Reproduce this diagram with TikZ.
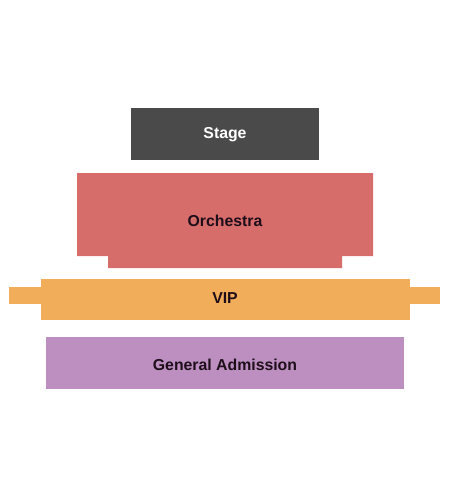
\documentclass[tikz,border=0pt]{standalone}
\usepackage{fontspec}
\setmainfont{Liberation Sans}
\usetikzlibrary{positioning}
\definecolor{stagegray}{HTML}{4A4A4A}
\definecolor{orchred}{HTML}{D66D6B}
\definecolor{vipgold}{HTML}{F2AD5B}
\definecolor{gapurple}{HTML}{BD8FC1}
\definecolor{labeldark}{HTML}{1E0E1A}

\begin{document}
\begin{tikzpicture}[x=0.03cm, y=-0.03cm, every node/.style={font=\fontsize{13.5}{15}\selectfont\bfseries}]
    \useasboundingbox (0,0) rectangle (450,500);

    % Stage
    \fill[stagegray] (131,108) rectangle (319,160);

    % Orchestra (with narrower lip at the front)
    \fill[orchred] (77,173) -- (373,173) -- (373,256) -- (342,256) -- (342,268)
        -- (108,268) -- (108,256) -- (77,256) -- cycle;

    % VIP (main block with side wings)
    \fill[vipgold] (41,279) rectangle (410,320);
    \fill[vipgold] (9,287) rectangle (440,304);

    % General Admission
    \fill[gapurple] (46,337) rectangle (404,389);

    % Labels
    \node[text=white] (stage) at (225,135) {Stage};
    \node[text=labeldark] (orchestra) at (225,221) {Orchestra};
    \node[text=labeldark] (vip) at (225,298) {VIP};
    \node[text=labeldark] (ga) at (225,365) {General Admission};
\end{tikzpicture}
\end{document}
